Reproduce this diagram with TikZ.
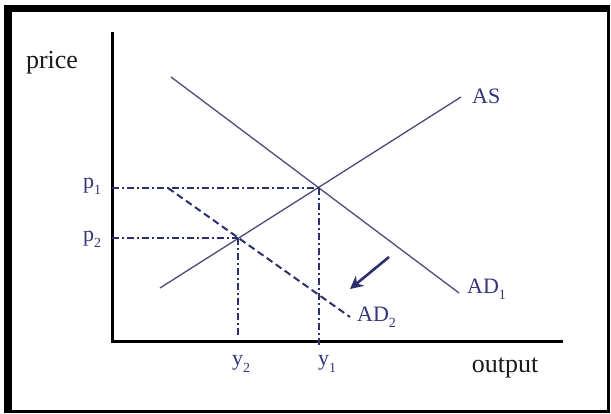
\documentclass[tikz,border=0pt]{standalone}
\usepackage{fontspec}
\setmainfont{Liberation Serif}
\usetikzlibrary{arrows.meta}
\definecolor{curve}{HTML}{4A4A78}
\definecolor{navy}{HTML}{2C2E6E}
\definecolor{lab}{HTML}{34357A}
\definecolor{txt}{HTML}{1A1A1A}
\tikzset{
  curveline/.style={draw=curve, line width=1.3pt},
  shiftline/.style={draw=navy, line width=2pt, dash pattern=on 7pt off 4pt},
  guide/.style={draw=navy, line width=1.5pt, dash pattern=on 7pt off 3pt on 2pt off 3pt},
  axis/.style={draw=black, line width=3pt},
  lbl/.style={text=lab, font=\fontsize{22}{25}\selectfont, inner sep=0pt},
  axlbl/.style={text=txt, font=\fontsize{26}{29}\selectfont, inner sep=0pt},
  moveArrow/.style={draw=navy, line width=2.6pt, -{Stealth[length=13pt,width=13pt]}}
}
\newcommand{\subs}[1]{\raisebox{-0.28em}{\fontsize{14}{16}\selectfont #1}}
\begin{document}
\begin{tikzpicture}[x=1pt,y=-1pt]
\useasboundingbox (0,0) rectangle (611,414);
% frame
\fill[black] (4,5) rectangle (610,12);
\fill[black] (4,5) rectangle (12,413);
\fill[black] (607,5) rectangle (610,413);
\fill[black] (4,410) rectangle (610,413);
% axes
\coordinate (origin) at (112,342);
\coordinate (ytop) at (112,32);
\coordinate (xend) at (563,342);
\draw[axis] (ytop) -- (origin) -- (xend);
% key points
\coordinate (E1) at (319,188);
\coordinate (E2) at (238,238);
\coordinate (p1axis) at (112,188);
\coordinate (p2axis) at (112,238);
\coordinate (y1foot) at (319,346);
\coordinate (y2foot) at (238,336);
% curves
\coordinate (as0) at (160,288);
\coordinate (as1) at (461,97);
\coordinate (ad10) at (171,77);
\coordinate (ad11) at (459,293);
\coordinate (ad20) at (168,188);
\coordinate (ad21) at (350,317);
\draw[curveline] (as0) -- (as1);
\draw[curveline] (ad10) -- (ad11);
\draw[guide] (p1axis) -- (E1);
\draw[guide] (p2axis) -- (E2);
\draw[guide] (E1) -- (y1foot);
\draw[guide] (E2) -- (y2foot);
\draw[shiftline] (ad20) -- (ad21);
% shift arrow
\coordinate (arrS) at (389,257);
\coordinate (arrE) at (350,289);
\draw[moveArrow] (arrS) -- (arrE);
% labels
\node[axlbl] (price) at (52,63) {price};
\node[axlbl] (output) at (505,368) {output};
\node[lbl, anchor=west] (AS) at (472,96) {AS};
\node[lbl, anchor=west] (AD1) at (467,289) {AD\subs{1}};
\node[lbl, anchor=west] (AD2) at (357,317) {AD\subs{2}};
\node[lbl] (p1) at (92,186) {p\subs{1}};
\node[lbl] (p2) at (92,239) {p\subs{2}};
\node[lbl] (y1) at (327,364) {y\subs{1}};
\node[lbl] (y2) at (241,364) {y\subs{2}};
\end{tikzpicture}
\end{document}
